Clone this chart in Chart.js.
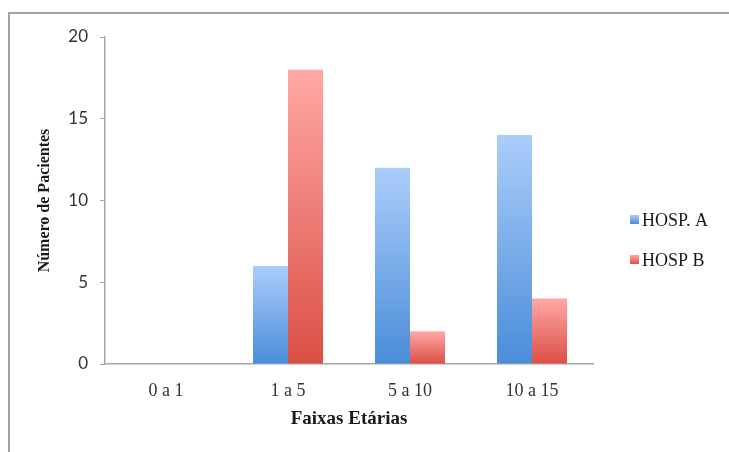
<!DOCTYPE html>
<html>
<head>
<meta charset="utf-8">
<script src="https://cdn.jsdelivr.net/npm/chart.js@4/dist/chart.umd.min.js"></script>
<style>
  html, body { margin: 0; padding: 0; background: #ffffff; }
  #wrap { position: absolute; left: 0; top: 0; width: 729px; height: 452px; }
</style>
</head>
<body>
<div id="wrap"><canvas id="chart" width="729" height="452"></canvas></div>
<script>
// Age groups and patient counts per hospital
const categories = ['0 a 1', '1 a 5', '5 a 10', '10 a 15'];
const hospA = [0, 6, 12, 14];
const hospB = [0, 18, 2, 4];
const seriesLabels = ['HOSP. A', 'HOSP B'];

// Light-to-dark vertical gradient per bar (top light, base dark)
const palettes = {
  a: { top: '#abcdfa', bottom: '#4a8dd9' },
  b: { top: '#ffa8a5', bottom: '#db4f45' }
};

function barGradient(pal) {
  return (ctx) => {
    const chart = ctx.chart;
    const area = chart.chartArea;
    if (!area || ctx.type !== 'data') return pal.bottom;
    const y = chart.scales.y;
    const base = y.getPixelForValue(0);
    const topPx = y.getPixelForValue(ctx.raw || 0);
    if (Math.abs(base - topPx) < 0.5) return pal.bottom;
    const g = chart.ctx.createLinearGradient(0, topPx, 0, base);
    g.addColorStop(0, pal.top);
    g.addColorStop(1, pal.bottom);
    return g;
  };
}

// Outer frame lines (top and left edges)
const framePlugin = {
  id: 'frame',
  beforeDraw(chart) {
    const c = chart.ctx;
    c.save();
    c.strokeStyle = '#a2a2a2';
    c.lineWidth = 2;
    c.beginPath();
    c.moveTo(9, 452);
    c.lineTo(9, 13);
    c.lineTo(729, 13);
    c.stroke();
    c.restore();
  }
};

// Legend drawn at the right side of the plot
const sideLegend = {
  id: 'sideLegend',
  afterDraw(chart) {
    const c = chart.ctx;
    const sets = chart.data.datasets;
    const pals = [palettes.a, palettes.b];
    c.save();
    c.font = 'normal normal 400 18px "Liberation Serif", serif';
    c.textBaseline = 'middle';
    c.textAlign = 'left';
    sets.forEach((ds, i) => {
      const yc = 220 + i * 40;
      const g = c.createLinearGradient(0, yc - 5, 0, yc + 4);
      g.addColorStop(0, pals[i].top);
      g.addColorStop(1, pals[i].bottom);
      c.fillStyle = g;
      c.fillRect(630, yc - 5, 9, 9);
      c.fillStyle = '#1a1a1a';
      c.fillText(ds.label, 642, yc + 1);
    });
    c.restore();
  }
};

new Chart(document.getElementById('chart'), {
  type: 'bar',
  data: {
    labels: categories,
    datasets: [
      { label: seriesLabels[0], data: hospA, backgroundColor: barGradient(palettes.a) },
      { label: seriesLabels[1], data: hospB, backgroundColor: barGradient(palettes.b) }
    ]
  },
  options: {
    responsive: false,
    animation: false,
    devicePixelRatio: 1,
    layout: { padding: { left: 12, top: 37, right: 136, bottom: 0 } },
    datasets: {
      bar: { barPercentage: 1.0, categoryPercentage: 0.574, borderWidth: 0 }
    },
    plugins: {
      legend: { display: false },
      tooltip: { enabled: false }
    },
    scales: {
      x: {
        grid: { display: false, drawTicks: false },
        border: { display: true, color: '#a6a6a6', width: 1.5 },
        ticks: {
          color: '#333333',
          padding: 16,
          maxRotation: 0,
          font: { family: '"Liberation Serif", "Times New Roman", serif', size: 18 }
        },
        title: {
          display: true,
          text: 'Faixas Etárias',
          color: '#1a1a1a',
          padding: { top: 0, bottom: 22 },
          font: { family: '"Liberation Serif", "Times New Roman", serif', size: 19, weight: 'bold' }
        },
        afterFit(scale) { scale.height = 88; }
      },
      y: {
        min: 0,
        max: 20,
        ticks: {
          stepSize: 5,
          color: '#333333',
          padding: 12,
          font: { family: 'Lato, "Open Sans", sans-serif', size: 17 }
        },
        grid: {
          display: true,
          drawOnChartArea: false,
          drawTicks: true,
          tickLength: 5,
          color: '#a6a6a6',
          lineWidth: 1
        },
        border: { display: true, color: '#a6a6a6', width: 1.5 },
        title: {
          display: true,
          text: 'Número de Pacientes',
          color: '#1a1a1a',
          padding: { top: 23, bottom: 0 },
          font: { family: '"Liberation Serif", "Times New Roman", serif', size: 16, weight: 'bold' }
        },
        afterFit(scale) { scale.width = 93; }
      }
    }
  },
  plugins: [framePlugin, sideLegend]
});
</script>
</body>
</html>
